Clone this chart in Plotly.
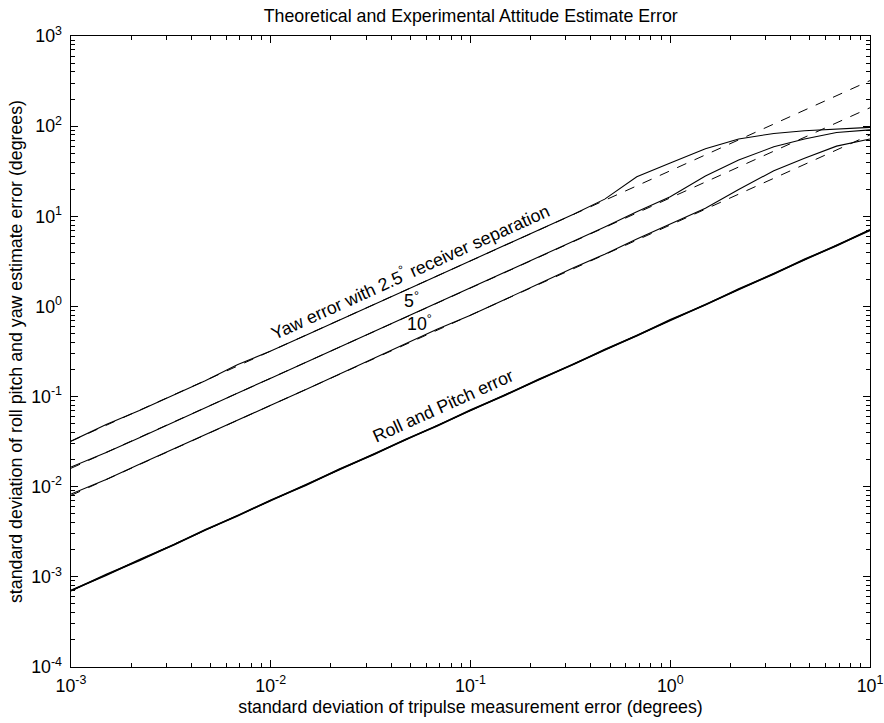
import math
import plotly.graph_objects as go

# ---------------- data ----------------
sigma = [0.001, 0.0015, 0.0022, 0.0033, 0.0047, 0.0068, 0.01, 0.015, 0.022, 0.033,
         0.047, 0.068, 0.1, 0.15, 0.22, 0.33, 0.47, 0.68, 1.0, 1.5, 2.2, 3.3, 4.7, 6.8, 10.0]

yaw25_exp = [0.032, 0.049, 0.070, 0.105, 0.150, 0.226, 0.32, 0.48, 0.70, 1.06,
             1.50, 2.18, 3.2, 4.8, 7.0, 10.6, 15.5, 27.5, 39.0, 56.0, 72.0, 83.0, 89.0, 93.0, 97.0]
yaw5_exp = [0.0165, 0.024, 0.035, 0.053, 0.075, 0.109, 0.16, 0.24, 0.355, 0.53,
            0.75, 1.10, 1.62, 2.4, 3.5, 5.3, 7.6, 11.2, 16.5, 28.0, 42.0, 59.0, 72.0, 85.0, 91.0]
yaw10_exp = [0.0083, 0.012, 0.0178, 0.0265, 0.0378, 0.055, 0.080, 0.120, 0.177, 0.265,
             0.38, 0.56, 0.80, 1.2, 1.78, 2.7, 3.8, 5.6, 8.2, 12.3, 19.8, 32.0, 44.0, 60.0, 72.0]
roll_exp = [0.00070, 0.00106, 0.00152, 0.00232, 0.00330, 0.00478, 0.0070, 0.0105, 0.0154, 0.0231,
            0.0330, 0.0476, 0.0700, 0.105, 0.154, 0.231, 0.330, 0.476, 0.70, 1.05, 1.54, 2.31, 3.30, 4.76, 7.0]
pitch_exp = [0.00071, 0.00104, 0.00155, 0.00229, 0.00333, 0.00472, 0.0071, 0.0104, 0.0156, 0.0229,
             0.0333, 0.0472, 0.0710, 0.104, 0.156, 0.229, 0.333, 0.472, 0.71, 1.04, 1.56, 2.29, 3.33, 4.72, 7.1]

theory_x = [0.001, 10.0]
yaw25_theory = [0.032, 320.0]
yaw5_theory = [0.016, 160.0]
yaw10_theory = [0.008, 80.0]
roll_theory = [0.0007, 7.0]

x_decades = [-3, -2, -1, 0, 1]
x_ticktext = ["10<sup>-3</sup>", "10<sup>-2</sup>", "10<sup>-1</sup>", "10<sup>0</sup>", "10<sup>1</sup>"]
y_decades = [-4, -3, -2, -1, 0, 1, 2, 3]
y_ticktext = ["10<sup>-4</sup>", "10<sup>-3</sup>", "10<sup>-2</sup>", "10<sup>-1</sup>",
              "10<sup>0</sup>", "10<sup>1</sup>", "10<sup>2</sup>", "10<sup>3</sup>"]

title_text = "Theoretical and Experimental Attitude Estimate Error"
x_title = "standard deviation of tripulse measurement error (degrees)"
y_title = "standard deviation of roll pitch and yaw estimate error (degrees)"

# ---------------- figure ----------------
FONT = "Liberation Sans, Arial, Helvetica, sans-serif"
FS = 17.8
fig = go.Figure()

solid = dict(color="black", width=1.1)
dashed = dict(color="black", width=1.0, dash="10px,9px")

for yv in [yaw25_theory, yaw5_theory, yaw10_theory, roll_theory]:
    fig.add_trace(go.Scatter(x=theory_x, y=yv, mode="lines", line=dashed, hoverinfo="skip"))
for yv in [yaw25_exp, yaw5_exp, yaw10_exp]:
    fig.add_trace(go.Scatter(x=sigma, y=yv, mode="lines", line=solid, hoverinfo="skip"))
for yv in [roll_exp, pitch_exp]:
    fig.add_trace(go.Scatter(x=sigma, y=yv, mode="lines", line=dict(color="black", width=1.6),
                             hoverinfo="skip"))
# empty trace so the label overlay axes are drawn
fig.add_trace(go.Scatter(x=[], y=[], xaxis="x2", yaxis="y2", hoverinfo="skip"))

tick_axis = dict(
    type="log", showgrid=False, zeroline=False, automargin=False,
    showline=True, linecolor="black", linewidth=1, mirror="ticks",
    ticks="inside", ticklen=7, tickwidth=1, tickcolor="black",
    tickmode="linear", tick0=0, dtick=1, showticklabels=False,
    minor=dict(ticks="inside", ticklen=4, tickwidth=1, tickcolor="black", showgrid=False),
)
label_axis = dict(
    type="linear", showgrid=False, zeroline=False, automargin=False, showline=False,
    ticks="", tickmode="array", tickfont=dict(family=FONT, size=FS, color="black"),
)

fig.update_layout(
    xaxis=dict(**tick_axis, range=[-3, 1]),
    yaxis=dict(**tick_axis, range=[-4, 3]),
    xaxis2=dict(**label_axis, range=[-3, 1], overlaying="x", anchor="y2", side="bottom",
                tickvals=x_decades, ticktext=x_ticktext, ticklabelstandoff=6,
                title=dict(text=x_title, font=dict(family=FONT, size=FS, color="black"), standoff=5)),
    yaxis2=dict(**label_axis, range=[-4, 3], overlaying="y", anchor="x2", side="left",
                tickvals=y_decades, ticktext=y_ticktext, ticklabelstandoff=8,
                title=dict(text=y_title, font=dict(family=FONT, size=FS, color="black"), standoff=3)),
)

ang = -24.3
afont = dict(family=FONT, size=FS, color="black")
fig.add_annotation(x=math.log10(0.0495), y=math.log10(2.50), xref="x", yref="y",
                   text="Yaw error with 2.5<sup>°</sup> receiver separation", textangle=ang,
                   showarrow=False, font=afont)
fig.add_annotation(x=math.log10(0.0505), y=math.log10(1.18), xref="x", yref="y",
                   text="5<sup>°</sup>", showarrow=False, font=afont)
fig.add_annotation(x=math.log10(0.0555), y=math.log10(0.65), xref="x", yref="y",
                   text="10<sup>°</sup>", showarrow=False, font=afont)
fig.add_annotation(x=math.log10(0.0728), y=math.log10(0.0785), xref="x", yref="y",
                   text="Roll and Pitch error", textangle=ang,
                   showarrow=False, font=afont)

fig.update_layout(
    width=884, height=723,
    margin=dict(l=71, r=14, t=36, b=56, autoexpand=False),
    paper_bgcolor="white", plot_bgcolor="white",
    showlegend=False,
    title=dict(text=title_text, x=0.5325, xanchor="center", y=0.978, yanchor="middle",
               font=dict(family=FONT, size=FS, color="black")),
)

fig.write_html("out.html")
